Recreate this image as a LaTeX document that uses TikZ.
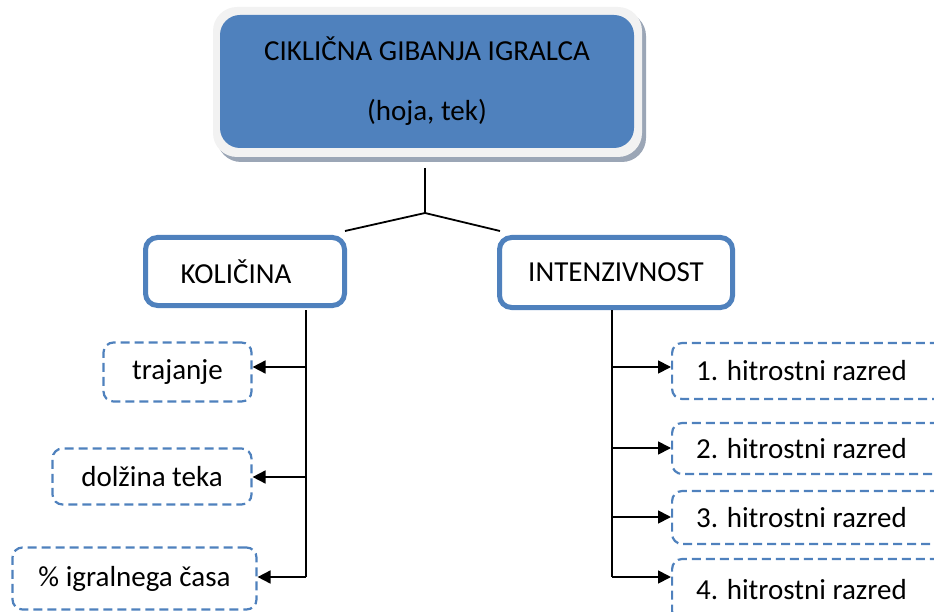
\documentclass[tikz,border=0pt]{standalone}
\usepackage{fontspec}
\setmainfont{Carlito}
\usetikzlibrary{arrows.meta}
\definecolor{obl}{HTML}{4F81BD}
\definecolor{frm}{HTML}{F2F2F2}
\definecolor{shd}{HTML}{9BA6B6}
\begin{document}
\begin{tikzpicture}[x=1pt,y=-1pt,
  font=\fontsize{29}{34}\selectfont,
  thickbox/.style={draw=obl, line width=5pt, rounded corners=12pt, fill=white, inner sep=0pt},
  dbox/.style={draw=obl, line width=2.2pt, dash pattern=on 9pt off 5pt, rounded corners=10pt, inner sep=0pt},
  rbox/.style={dbox, anchor=west, inner xsep=0pt},
  conn/.style={line width=1.8pt, black},
  arr/.style={conn, -{Triangle[length=13pt,width=13pt]}},
]
\useasboundingbox (0,0) rectangle (934,612);
\clip (0,0) rectangle (934,612);
% top box with bevel frame and shadow
\fill[shd, rounded corners=24pt] (217,12) rectangle (646,162);
\fill[frm, rounded corners=24pt] (213,7) rectangle (642,157);
\node[fill=obl, rounded corners=20pt, minimum width=414pt, minimum height=133pt, inner sep=0pt, align=center] (top) at (427,81.5)
  {CIKLIČNA GIBANJA IGRALCA\\[26pt](hoja, tek)};
% second level
\node[thickbox, minimum width=199pt, minimum height=68pt] (kol) at (245,271.5) {KOLIČINA\kern18pt};
\node[thickbox, minimum width=233pt, minimum height=70pt] (int) at (616,272.5) {INTENZIVNOST};
% tree connector
\coordinate (j) at (425,213);
\draw[conn] (425,168) -- (j);
\draw[conn] (j) -- (345,231);
\draw[conn] (j) -- (500,231);
% left leaves
\node[dbox, minimum width=148pt, minimum height=59pt] (tr) at (177.5,372) {trajanje};
\node[dbox, minimum width=199pt, minimum height=56pt] (dt) at (152,476.5) {dolžina teka};
\node[dbox, minimum width=244pt, minimum height=62pt] (ig) at (134.5,578.5) {\% igralnega časa};
\coordinate (lt) at (306,310);
\coordinate (l1) at (306,367);
\coordinate (l2) at (306,477);
\coordinate (l3) at (306,577);
\draw[conn] (lt) -- (l3);
\draw[arr] (l1) -- (l1 -| tr.east);
\draw[arr] (l2) -- (l2 -| dt.east);
\draw[arr] (l3) -- (l3 -| ig.east);
% right leaves
\node[rbox, minimum height=56pt] (h1) at (671,371) {\kern24pt 1. hitrostni razred\kern56pt};
\node[rbox, minimum height=51pt] (h2) at (671,448.5) {\kern24pt 2. hitrostni razred\kern56pt};
\node[rbox, minimum height=53pt] (h3) at (671,517.5) {\kern24pt 3. hitrostni razred\kern56pt};
\node[rbox, minimum height=62pt] (h4) at (671,590) {\kern24pt 4. hitrostni razred\kern56pt};
\coordinate (rt) at (612,310);
\coordinate (r1) at (612,367);
\coordinate (r2) at (612,448);
\coordinate (r3) at (612,517);
\coordinate (r4) at (612,577);
\draw[conn] (rt) -- (r4);
\draw[arr] (r1) -- (r1 -| h1.west);
\draw[arr] (r2) -- (r2 -| h2.west);
\draw[arr] (r3) -- (r3 -| h3.west);
\draw[arr] (r4) -- (r4 -| h4.west);
\end{tikzpicture}
\end{document}
